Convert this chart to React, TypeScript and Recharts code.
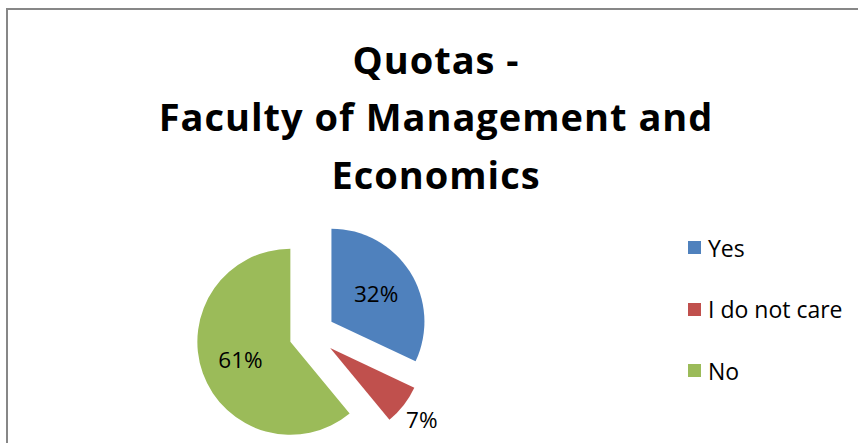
import React from "react";
import { PieChart, Pie, Cell, Legend, Sector } from "recharts";

const categories = ["Yes", "I do not care", "No"];
const values = [32, 7, 61];
const colors = ["#4F81BD", "#C0504D", "#9BBB59"];
const titleLines = ["Quotas -", "Faculty of Management and", "Economics"];

const data = categories.map((name, i) => ({ name, value: values[i] }));

const RADIAN = Math.PI / 180;
const EXPLODE = 23;
const FONT = "'Open Sans', 'DejaVu Sans', sans-serif";

const offset = (midAngle: number, dist: number) => ({
  dx: dist * Math.cos(-midAngle * RADIAN),
  dy: dist * Math.sin(-midAngle * RADIAN),
});

const ExplodedSlice = (props: any) => {
  const { dx, dy } = offset(props.midAngle, EXPLODE);
  return <Sector {...props} cx={props.cx + dx} cy={props.cy + dy} stroke="none" />;
};

const renderLabel = (props: any) => {
  const { cx, cy, midAngle, outerRadius, percent } = props;
  const small = percent < 0.1;
  const dist = EXPLODE + (small ? outerRadius + 23 : outerRadius * 0.57);
  const { dx, dy } = offset(midAngle, dist);
  return (
    <text
      x={cx + dx}
      y={cy + dy}
      fill="#000"
      textAnchor="middle"
      dominantBaseline="central"
      fontFamily={FONT}
      fontSize={22.5}
    >
      {`${Math.round(percent * 100)}%`}
    </text>
  );
};

const LegendContent = () => (
  <div>
    {categories.map((name, i) => (
      <div
        key={name}
        style={{
          display: "flex",
          alignItems: "center",
          height: 61.5,
          fontFamily: FONT,
          fontSize: 23,
          color: "#000",
          whiteSpace: "nowrap",
        }}
      >
        <span
          style={{
            width: 13,
            height: 13,
            background: colors[i],
            marginRight: 7,
            display: "inline-block",
            flex: "none",
          }}
        />
        {name}
      </div>
    ))}
  </div>
);

export default function App() {
  return (
    <div
      style={{
        position: "fixed",
        left: 0,
        top: 0,
        width: 858,
        height: 443,
        overflow: "hidden",
        background: "#fff",
      }}
    >
      <div style={{ position: "absolute", left: 0, top: 0 }}>
        <PieChart
          width={858}
          height={443}
          margin={{ top: 0, right: 0, bottom: 0, left: 0 }}
        >
          {titleLines.map((t, i) => (
            <text
              key={t}
              x={436}
              y={[74, 131, 189][i]}
              textAnchor="middle"
              fontFamily={FONT}
              fontWeight="bold"
              fontSize={38}
              letterSpacing={1}
              fill="#000"
            >
              {t}
            </text>
          ))}
          <Pie
            data={data}
            dataKey="value"
            nameKey="name"
            cx={312}
            cy={334}
            outerRadius={93}
            startAngle={90}
            endAngle={-270}
            stroke="none"
            shape={ExplodedSlice}
            label={renderLabel}
            labelLine={false}
            isAnimationActive={false}
          >
            {data.map((d, i) => (
              <Cell key={d.name} fill={colors[i]} />
            ))}
          </Pie>
          <Legend
            layout="vertical"
            content={<LegendContent />}
            wrapperStyle={{ left: 688, top: 217, width: 170 }}
          />
        </PieChart>
      </div>
      <div
        style={{
          position: "absolute",
          left: 6,
          top: 8,
          width: 1000,
          height: 1000,
          borderTop: "2px solid #878787",
          borderLeft: "2px solid #878787",
          pointerEvents: "none",
        }}
      />
    </div>
  );
}
